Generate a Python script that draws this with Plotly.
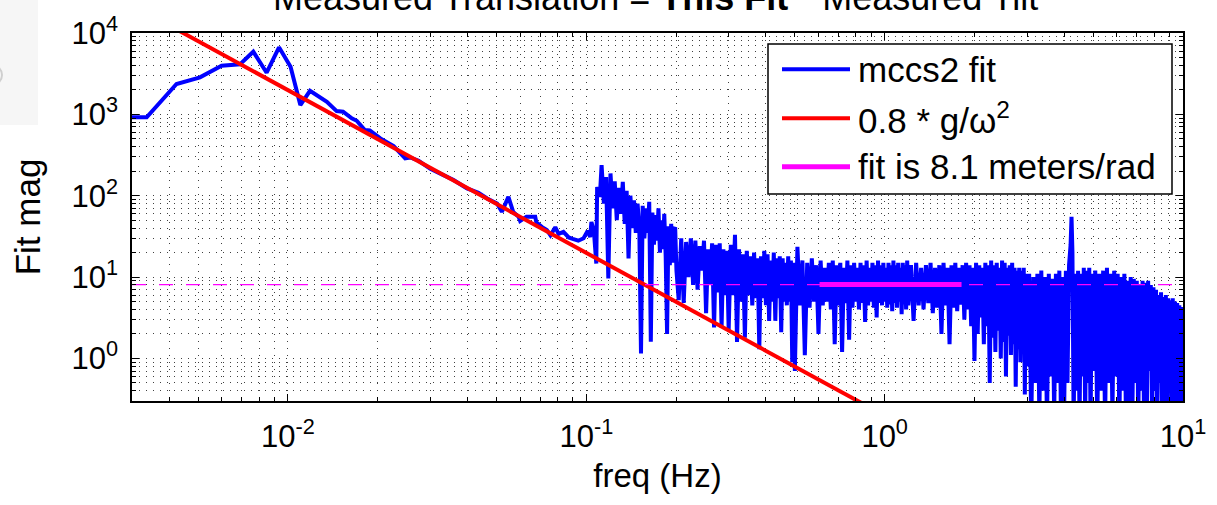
import plotly.graph_objects as go
import math

# ---------------- data ----------------
# smooth low-frequency part of the measured fit
freq_smooth = [0.0030, 0.00336, 0.00423, 0.00507, 0.00599, 0.0069, 0.00765, 0.00848, 0.00933,
               0.0102, 0.0110, 0.01185, 0.0135, 0.01456, 0.0153, 0.01636, 0.0170, 0.0181, 0.0188,
               0.0204, 0.0226, 0.0247, 0.0257, 0.0274, 0.0300, 0.0332, 0.0359, 0.0398, 0.0435,
               0.0465, 0.0502, 0.0521, 0.0548, 0.0569, 0.0593, 0.0600, 0.0630, 0.0674, 0.0680,
               0.0709, 0.0737, 0.0758, 0.0787, 0.0807, 0.0838, 0.0873, 0.0900, 0.0940, 0.0979,
               0.1010, 0.1030, 0.1040, 0.1060, 0.1080, 0.1087, 0.1110]
mag_smooth = [919, 919, 2360, 2850, 3960, 4120, 5890, 3250, 6670,
              3850, 1300, 1950, 1430, 1097, 1080, 892, 834, 641, 635,
              507, 407, 288, 295, 269, 214, 179, 156, 123, 109,
              92.7, 80, 63.4, 97, 63, 55, 49, 55, 55, 47,
              41.4, 38, 32.7, 41, 34, 36, 30.7, 29.5, 28, 30,
              37, 31, 47.6, 37, 14.7, 128, 97]

# noisy part above ~0.11 Hz (frequency bins and magnitudes)
freq_noisy = [
    # 0.11 - 0.20 Hz
    0.1125, 0.1145, 0.1165, 0.1185, 0.1205, 0.1225, 0.1245, 0.1265, 0.1285, 0.1305,
    0.1325, 0.1345, 0.1365, 0.1385, 0.1405, 0.1425, 0.1445, 0.1465, 0.1485, 0.1505,
    0.1525, 0.1545, 0.1565, 0.1585, 0.1605, 0.1625, 0.1645, 0.1665, 0.1685, 0.1705,
    0.1725, 0.1745, 0.1765, 0.1785, 0.1805, 0.1825, 0.1845, 0.1865, 0.1885, 0.1905,
    0.1925, 0.1945, 0.1965, 0.1985, 0.2005,
    # 0.20 - 0.30 Hz
    0.204, 0.208, 0.212, 0.216, 0.220, 0.224, 0.228, 0.232, 0.236, 0.240,
    0.244, 0.248, 0.252, 0.256, 0.260, 0.264, 0.268, 0.272, 0.276, 0.280,
    0.284, 0.288, 0.292, 0.296, 0.300,
    # 0.30 - 0.50 Hz
    0.305, 0.310, 0.315, 0.320, 0.325, 0.330, 0.335, 0.340, 0.345, 0.350,
    0.355, 0.360, 0.365, 0.370, 0.375, 0.380, 0.385, 0.390, 0.395, 0.400,
    0.405, 0.410, 0.415, 0.420, 0.425, 0.430, 0.435, 0.440, 0.445, 0.450,
    0.455, 0.460, 0.465, 0.470, 0.475, 0.480, 0.485, 0.490, 0.495, 0.500,
    # 0.50 - 1.20 Hz
    0.51, 0.52, 0.53, 0.54, 0.55, 0.56, 0.57, 0.58, 0.59, 0.60,
    0.61, 0.62, 0.63, 0.64, 0.65, 0.66, 0.67, 0.68, 0.69, 0.70,
    0.71, 0.72, 0.73, 0.74, 0.75, 0.76, 0.77, 0.78, 0.79, 0.80,
    0.81, 0.82, 0.83, 0.84, 0.85, 0.86, 0.87, 0.88, 0.89, 0.90,
    0.91, 0.92, 0.93, 0.94, 0.95, 0.96, 0.97, 0.98, 0.99, 1.00,
    1.01, 1.02, 1.03, 1.04, 1.05, 1.06, 1.07, 1.08, 1.09, 1.10,
    1.11, 1.12, 1.13, 1.14, 1.15, 1.16, 1.17, 1.18, 1.19, 1.20,
    # 1.2 - 3.0 Hz
    1.225, 1.250, 1.275, 1.300, 1.325, 1.350, 1.375, 1.400, 1.425, 1.450,
    1.475, 1.500, 1.525, 1.550, 1.575, 1.600, 1.625, 1.650, 1.675, 1.700,
    1.725, 1.750, 1.775, 1.800, 1.825, 1.850, 1.875, 1.900, 1.925, 1.950,
    1.975, 2.000, 2.025, 2.050, 2.075, 2.100, 2.125, 2.150, 2.175, 2.200,
    2.225, 2.250, 2.275, 2.300, 2.325, 2.350, 2.375, 2.400, 2.425, 2.450,
    2.475, 2.500, 2.525, 2.550, 2.575, 2.600, 2.625, 2.650, 2.675, 2.700,
    2.725, 2.750, 2.775, 2.800, 2.825, 2.850, 2.875, 2.900, 2.925, 2.950,
    2.975, 3.000,
    # 3.0 - 5.0 Hz
    3.05, 3.10, 3.15, 3.20, 3.25, 3.30, 3.35, 3.40, 3.45, 3.50,
    3.55, 3.60, 3.65, 3.70, 3.75, 3.80, 3.85, 3.90, 3.95, 4.00,
    4.05, 4.10, 4.15, 4.20, 4.23, 4.26, 4.30, 4.35, 4.40, 4.45,
    4.50, 4.55, 4.60, 4.65, 4.70, 4.75, 4.80, 4.85, 4.90, 4.95, 5.00,
    # 5.0 - 10 Hz
    5.08, 5.16, 5.24, 5.32, 5.40, 5.48, 5.56, 5.64, 5.72, 5.80,
    5.88, 5.96, 6.04, 6.12, 6.20, 6.28, 6.36, 6.44, 6.52, 6.60,
    6.68, 6.76, 6.84, 6.92, 7.00, 7.08, 7.16, 7.24, 7.32, 7.40,
    7.48, 7.56, 7.64, 7.72, 7.80, 7.88, 7.96, 8.04, 8.12, 8.20,
    8.28, 8.36, 8.44, 8.52, 8.60, 8.68, 8.76, 8.84, 8.92, 9.00,
    9.08, 9.16, 9.24, 9.32, 9.40, 9.48, 9.56, 9.64, 9.72, 9.80,
    9.88, 9.96, 10.0]
mag_noisy = [
    # 0.11 - 0.20 Hz
    238, 80, 170, 9.6, 188, 70, 150, 50, 125, 60,
    148, 45, 115, 17, 100, 40, 88, 35, 80, 42,
    1.15, 75, 30, 70, 35, 84, 1.6, 62, 25, 58,
    28, 70, 20, 50, 22, 60, 18, 2.0, 42, 14,
    45, 15, 38, 41, 12,
    # 0.20 - 0.30 Hz
    5.2, 30, 4.8, 27, 10, 30, 8, 28, 7, 24,
    12, 28, 3.6, 22, 8, 26, 2.4, 25, 6.5, 26,
    2.4, 22, 6, 21, 2.2,
    # 0.30 - 0.50 Hz
    25, 6, 33, 1.6, 22, 5, 19, 1.8, 21, 6,
    18, 4.5, 20, 5.5, 17, 1.3, 18, 5.5, 21, 4.5,
    19, 2.9, 16, 5, 20, 2.9, 17, 5.5, 18, 2.1,
    17, 5, 15, 4.5, 18, 5, 16, 0.9, 15, 0.7,
    # 0.50 - 1.20 Hz
    23.5, 4.5, 16, 1.1, 15, 4.2, 17, 5, 14, 2.0,
    16, 4.5, 13, 5, 15, 4, 16, 1.5, 14, 4.5,
    15, 1.2, 13, 4.8, 16, 1.7, 14, 4.2, 15, 5,
    13, 4, 15, 4.8, 14, 2.8, 16, 4.5, 13, 5,
    15, 4.2, 14, 3.2, 16, 4.8, 14, 4.5, 15, 5,
    13, 4.2, 15, 4.6, 14, 3.8, 16, 4.8, 14, 4.2,
    15, 5, 13, 3.5, 15, 4.6, 14, 4, 16, 4.5,
    # 1.2 - 3.0 Hz
    14, 2.9, 15, 4.5, 13, 4.0, 14, 4.8, 15, 3.6,
    13, 4.2, 14, 2.0, 15, 4.5, 13, 1.5, 14, 4.2,
    15, 3.8, 13, 4.6, 14, 3.0, 15, 4.0, 14, 2.5,
    13, 0.93, 15, 2.0, 14, 3.2, 13, 1.5, 15, 2.5,
    14, 0.5, 16, 1.8, 14, 1.2, 15, 2.2, 13, 1.0,
    16, 1.6, 15, 0.6, 13, 1.9, 14, 1.1, 15, 1.5,
    13, 0.45, 12, 1.3, 13, 0.9, 12, 1.4, 13, 0.36,
    11, 0.8,
    # 3.0 - 5.0 Hz
    11, 0.15, 10, 0.5, 11, 0.2, 12, 0.4, 10, 0.15,
    11, 0.6, 9.5, 0.2, 11, 0.5, 12, 0.15, 10, 0.3,
    12, 0.5, 14, 25, 55, 20, 0.15, 11, 0.4, 12,
    0.15, 11, 0.6, 13, 0.2, 12, 0.5, 13, 0.15, 11, 0.7,
    # 5.0 - 10 Hz
    12, 0.15, 11, 0.4, 12, 0.15, 13, 0.5, 11, 0.2,
    12, 0.6, 11, 0.15, 10, 0.4, 11, 0.15, 9, 0.3,
    10, 0.15, 9.5, 0.5, 9, 0.15, 8, 0.4, 9, 0.2,
    8.5, 0.15, 9, 0.7, 8, 0.15, 7.5, 0.4, 7, 0.15,
    6, 0.5, 6.5, 0.15, 5.7, 0.3, 6, 0.15, 5.5, 0.6,
    5.2, 0.15, 5.5, 0.4, 5, 0.15, 4.8, 0.5, 4.5, 0.15,
    4.3, 0.2, 4.3]
assert len(freq_noisy) == len(mag_noisy), (len(freq_noisy), len(mag_noisy))

# 0.8 * g / w^2 model line (values read at two frequencies)
model_freq = [0.004, 0.9]
model_mag = [12400, 0.245]

# fitted level and the band used for the fit
fit_level = 8.1
fit_band = [0.605, 1.81]
freq_span = [0.003, 10.0]

x_tickvals = [0.01, 0.1, 1, 10]
x_ticktext = ["10<sup>-2</sup>", "10<sup>-1</sup>", "10<sup>0</sup>", "10<sup>1</sup>"]
y_tickvals = [1, 10, 100, 1000, 10000]
y_ticktext = ["10<sup>0</sup>", "10<sup>1</sup>", "10<sup>2</sup>", "10<sup>3</sup>", "10<sup>4</sup>"]
legend_labels = ["mccs2 fit", "0.8 * g/ω<sup>2</sup>", "fit is 8.1 meters/rad"]
title_text = "Measured Translation = <b>This Fit</b> * Measured Tilt"

# ---------------- styling ----------------
FONT = "Liberation Sans, Arial, Helvetica, sans-serif"
BLUE, RED, MAGENTA = "#0000ff", "#ff0000", "#ff00ff"
W, H = 1217, 505
ML, MR, MT, MB = 132, 34, 33, 104
PW, PH = W - ML - MR, H - MT - MB


def px_x(px):
    return (px - ML) / PW


def px_y(py):
    return (H - MB - py) / PH


x_minor = [m * 10 ** e for e in range(-3, 1) for m in range(2, 10)]
y_minor = [m * 10 ** e for e in range(-1, 4) for m in range(2, 10)]

fig = go.Figure()
fig.add_trace(go.Scatter(x=freq_smooth + freq_noisy, y=mag_smooth + mag_noisy, mode="lines",
                         name=legend_labels[0], line=dict(color=BLUE, width=4, simplify=False),
                         showlegend=False))
fig.add_trace(go.Scatter(x=model_freq, y=model_mag, mode="lines", name=legend_labels[1],
                         line=dict(color=RED, width=4), showlegend=False))
fig.add_trace(go.Scatter(x=freq_span, y=[fit_level, fit_level], mode="lines",
                         line=dict(color=MAGENTA, width=1.2, dash="14px,13px"), showlegend=False))
fig.add_trace(go.Scatter(x=fit_band, y=[fit_level, fit_level], mode="lines", name=legend_labels[2],
                         line=dict(color=MAGENTA, width=5), showlegend=False))

grid = dict(showgrid=True, gridcolor="#404040", gridwidth=1, griddash="1px,6px")
common = dict(type="log", showline=True, linecolor="black", linewidth=1.5, mirror="allticks",
              ticks="inside", ticklen=7, tickwidth=1, tickcolor="black", zeroline=False,
              tickmode="array", **grid)

fig.update_xaxes(range=[math.log10(0.003), 1.0], tickvals=x_tickvals, ticktext=x_ticktext,
                 tickfont=dict(size=31, family=FONT, color="black"), ticklabelstandoff=7,
                 minor=dict(tickvals=x_minor, ticks="inside", ticklen=4, tickcolor="black", **grid),
                 title=dict(text="freq (Hz)", font=dict(size=33, family=FONT, color="black"), standoff=11),
                 **common)
fig.update_yaxes(range=[math.log10(0.3), 4.0], tickvals=y_tickvals, ticktext=y_ticktext,
                 tickfont=dict(size=31, family=FONT, color="black"), ticklabelstandoff=6,
                 minor=dict(tickvals=y_minor, ticks="inside", ticklen=4, tickcolor="black", **grid),
                 title=dict(text="Fit mag", font=dict(size=35, family=FONT, color="black"), standoff=20),
                 **common)

shapes = [
    # faint grey panel at the top-left corner
    dict(type="rect", xref="paper", yref="paper", x0=px_x(0), x1=px_x(38), y0=px_y(125), y1=px_y(-2),
         fillcolor="#f6f6f6", line=dict(width=0), layer="below"),
    dict(type="circle", xref="paper", yref="paper", x0=px_x(-18), x1=px_x(2), y0=px_y(85), y1=px_y(65),
         line=dict(color="#cfcfcf", width=2), layer="below"),
    # legend box
    dict(type="rect", xref="paper", yref="paper", x0=px_x(768), x1=px_x(1172), y0=px_y(194), y1=px_y(44),
         fillcolor="white", line=dict(color="black", width=1.5), layer="above"),
]
legend_rows = [69.3, 118.3, 166.7]
legend_colors = [BLUE, RED, MAGENTA]
legend_widths = [4, 4, 5]
annotations = []
for row, col, lw, lab in zip(legend_rows, legend_colors, legend_widths, legend_labels):
    shapes.append(dict(type="line", xref="paper", yref="paper", x0=px_x(782), x1=px_x(850),
                       y0=px_y(row), y1=px_y(row), line=dict(color=col, width=lw), layer="above"))
    annotations.append(dict(text=lab, xref="paper", yref="paper", x=px_x(856), y=px_y(row),
                            xanchor="left", yanchor="middle", showarrow=False,
                            font=dict(size=35, family=FONT, color="black")))
annotations.append(dict(text=title_text, xref="paper", yref="paper", x=px_x(655), y=px_y(-2.5),
                        xanchor="center", yanchor="middle", showarrow=False,
                        font=dict(size=36, family=FONT, color="black")))

fig.update_layout(width=W, height=H, margin=dict(l=ML, r=MR, t=MT, b=MB, autoexpand=False),
                  paper_bgcolor="white", plot_bgcolor="white", showlegend=False,
                  font=dict(family=FONT, color="black"), shapes=shapes, annotations=annotations)

fig.write_html("out.html")
